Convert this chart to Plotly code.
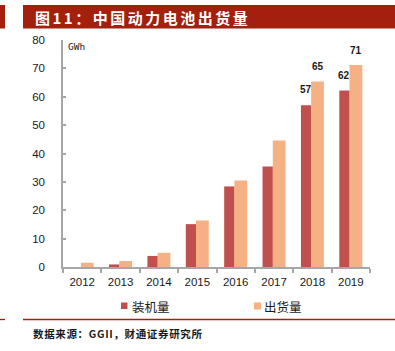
import plotly.graph_objects as go

years = ["2012", "2013", "2014", "2015", "2016", "2017", "2018", "2019"]
installed = [0.0, 0.9, 3.9, 15.1, 28.4, 35.4, 57.0, 62.2]
shipped = [1.5, 2.1, 5.0, 16.4, 30.5, 44.6, 65.4, 71.2]
label_years = ["2018", "2019"]
installed_labels = ["57", "62"]
shipped_labels = ["65", "71"]
series_names = ["装机量", "出货量"]
yticks = [0, 10, 20, 30, 40, 50, 60, 70, 80]

RED = "#C0504D"
ORANGE = "#F5B183"
DARK = "#A3200D"
AXIS = "#A6A6A6"
TXT = "#1a1a1a"
CJK = "Noto Sans CJK SC"

W, H = 395, 351
L, R, T, B = 63, 370, 40, 267  # plot area in pixels

fig = go.Figure()
fig.add_trace(go.Bar(x=years, y=installed, name=series_names[0], marker_color=RED,
                     marker_line_width=0, offset=-0.30, width=0.27))
fig.add_trace(go.Bar(x=years, y=shipped, name=series_names[1], marker_color=ORANGE,
                     marker_line_width=0, offset=-0.034, width=0.333))

ann = []
idx = {y: i for i, y in enumerate(years)}
for yr, lab in zip(label_years, installed_labels):
    ann.append(dict(x=idx[yr], y=installed[idx[yr]], xref="x", yref="y", text="<b>%s</b>" % lab,
                    showarrow=False, xshift=-6.4, yshift=8, yanchor="bottom",
                    font=dict(family="Arial", size=10, color=TXT)))
for yr, lab in zip(label_years, shipped_labels):
    ann.append(dict(x=idx[yr], y=shipped[idx[yr]], xref="x", yref="y", text="<b>%s</b>" % lab,
                    showarrow=False, xshift=5.1, yshift=7, yanchor="bottom",
                    font=dict(family="Arial", size=10, color=TXT)))


def px(x):
    return (x - L) / (R - L)


def py(y):
    return (B - y) / (B - T)


# unit
ann.append(dict(x=px(66), y=py(38.5), xref="paper", yref="paper", text="GWh", showarrow=False,
                xanchor="left", yanchor="top",
                font=dict(family="DejaVu Sans Mono", size=9.5, color=TXT)))

title = "\u2006".join(list("图11：中国动力电池出货量"))
ann.append(dict(x=px(33), y=py(17.5), xref="paper", yref="paper", text="<b>%s</b>" % title,
                showarrow=False, xanchor="left", yanchor="middle",
                font=dict(family=CJK, size=15, color="white")))

# legend (manual)
ann.append(dict(x=px(130), y=py(306), xref="paper", yref="paper", text=series_names[0],
                showarrow=False, xanchor="left", yanchor="middle",
                font=dict(family=CJK, size=12.5, color=TXT)))
ann.append(dict(x=px(262), y=py(306), xref="paper", yref="paper", text=series_names[1],
                showarrow=False, xanchor="left", yanchor="middle",
                font=dict(family=CJK, size=12.5, color=TXT)))

src = "\u200a".join(list("数据来源：GGII，财通证券研究所"))
ann.append(dict(x=px(31), y=py(333), xref="paper", yref="paper", text="<b>%s</b>" % src,
                showarrow=False, xanchor="left", yanchor="middle",
                font=dict(family=CJK, size=10.5, color=TXT)))

shapes = [
    dict(type="rect", xref="paper", yref="paper", x0=px(23), x1=px(395), y0=py(28.5), y1=py(5),
         fillcolor=DARK, line_width=0, layer="below"),
    dict(type="rect", xref="paper", yref="paper", x0=px(0), x1=px(5), y0=py(28.5), y1=py(5),
         fillcolor=DARK, line_width=0, layer="below"),
    dict(type="rect", xref="paper", yref="paper", x0=px(121), x1=px(127.5), y0=py(309), y1=py(302.5),
         fillcolor=RED, line_width=0),
    dict(type="rect", xref="paper", yref="paper", x0=px(254), x1=px(261), y0=py(309.5), y1=py(302.5),
         fillcolor=ORANGE, line_width=0),
    dict(type="line", xref="paper", yref="paper", x0=px(23), x1=px(395), y0=py(319.5), y1=py(319.5),
         line=dict(color=DARK, width=1.3)),
    dict(type="line", xref="paper", yref="paper", x0=px(0), x1=px(5), y0=py(319.5), y1=py(319.5),
         line=dict(color=DARK, width=1.3)),
]

fig.update_layout(
    width=W, height=H,
    margin=dict(l=L, r=W - R, t=T, b=H - B),
    paper_bgcolor="white", plot_bgcolor="white",
    barmode="overlay", showlegend=False,
    annotations=ann, shapes=shapes,
    font=dict(family="Arial", color=TXT),
)
fig.update_xaxes(type="category", range=[-0.5, 7.5], showline=True, linecolor=AXIS, linewidth=1.5,
                 ticks="outside", tickson="boundaries", ticklen=4, tickcolor=AXIS, tickwidth=1.5,
                 showgrid=False, tickfont=dict(family="Arial", size=11.5, color=TXT),
                 ticklabelstandoff=3, tickangle=0)
fig.update_yaxes(range=[0, 80], tickvals=yticks, showline=True, linecolor=AXIS, linewidth=1.5,
                 ticks="inside", ticklen=3, tickcolor=AXIS, tickwidth=1.5, showgrid=False,
                 zeroline=False, tickfont=dict(family="Arial", size=11.5, color=TXT),
                 ticklabelstandoff=14)

fig.write_html("out.html")
